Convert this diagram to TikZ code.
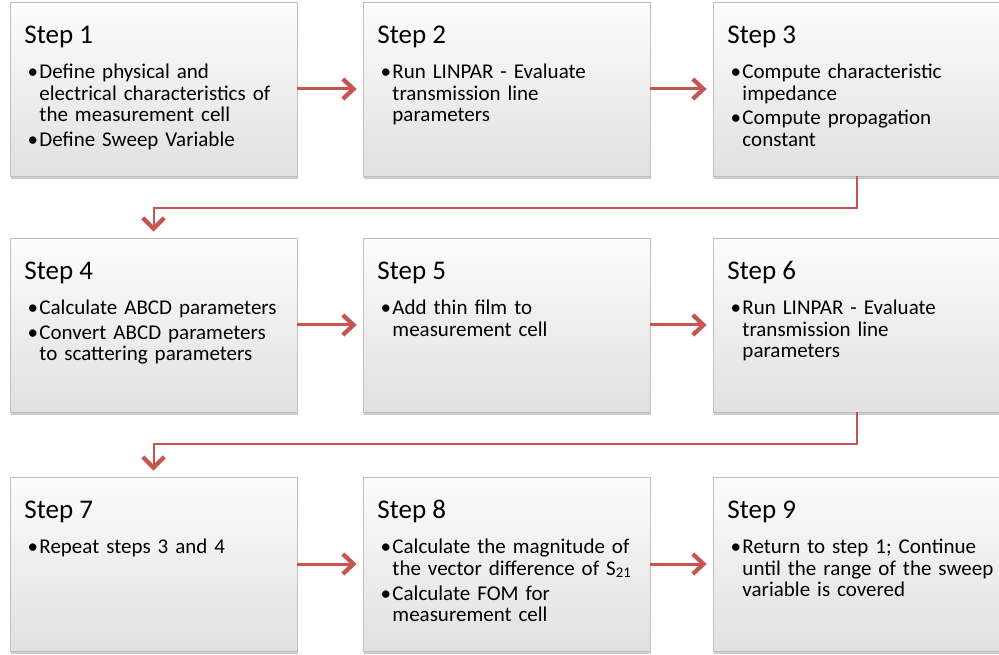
\documentclass[tikz,border=0pt]{standalone}
\usepackage{fontspec}
\setmainfont{Carlito}
\usetikzlibrary{arrows.meta,shadows}

\definecolor{flowred}{RGB}{198,84,80}

% one bullet line, hanging indent under the text
\newcommand{\bul}{\hangindent=7.9pt\hangafter=1\noindent\makebox[7.9pt][l]{\hspace{-1pt}•}}
\newcommand{\nl}{\hfil\break}

% box, title and bullets of one step
\newcommand{\stepcard}[4]{%
    \node[stepbox] (#1) at (#2) {};
    \node[steptitle] (#1t) at ([shift={(10.9pt,-31.5pt)}]#1.north west) {#3};
    \node[stepbody] (#1b) at ([shift={(14.3pt,-57.75pt)}]#1.north west) {#4\par};}

\tikzset{
    stepbox/.style={rectangle,minimum width=215.25pt,minimum height=130.5pt,inner sep=0pt,
        top color=gray!2,bottom color=gray!24,draw=gray!50,line width=0.6pt,
        drop shadow={shadow xshift=1pt,shadow yshift=-2.5pt,opacity=0.4}},
    steptitle/.style={anchor=base west,inner sep=0pt,font=\fontsize{20.25}{24}\selectfont},
    stepbody/.style={anchor=base west,inner sep=0pt,text width=212pt,
        font=\fontsize{15.75}{16.1}\selectfont\setlength{\parskip}{2.6pt}},
    flow/.style={flowred,line width=2.25pt,shorten >=4.5pt,
        -{Straight Barb[length=8pt,width=15pt,line width=3.2pt]}},
    wrap/.style={flowred,line width=1.5pt,shorten >=4.5pt,
        -{Straight Barb[length=8pt,width=16pt,line width=3.2pt]}}
}

\begin{document}
\begin{tikzpicture}[x=0.75pt,y=-0.75pt]
    \useasboundingbox (0,0) rectangle (999,655);

    % row 1
    \stepcard{s1}{153.5,89}{Step 1}{\bul Define physical and\nl electrical characteristics of\nl the measurement cell
        \par\bul Define Sweep Variable}
    \stepcard{s2}{506.5,89}{Step 2}{\bul Run LINPAR - Evaluate\nl transmission line\nl parameters}
    \stepcard{s3}{856.5,89}{Step 3}{\bul Compute characteristic\nl impedance
        \par\bul Compute propagation\nl constant}

    % row 2
    \stepcard{s4}{153.5,325}{Step 4}{\bul Calculate ABCD parameters
        \par\bul Convert ABCD parameters\nl to scattering parameters}
    \stepcard{s5}{506.5,325}{Step 5}{\bul Add thin film to\nl measurement cell}
    \stepcard{s6}{856.5,325}{Step 6}{\bul Run LINPAR - Evaluate\nl transmission line\nl parameters}

    % row 3
    \stepcard{s7}{153.5,564}{Step 7}{\bul Repeat steps 3 and 4}
    \stepcard{s8}{506.5,564}{Step 8}{\bul Calculate the magnitude of\nl the vector difference of S\textsubscript{21}
        \par\bul Calculate FOM for\nl measurement cell}
    \stepcard{s9}{856.5,564}{Step 9}{\bul Return to step 1; Continue\nl until the range of the sweep\nl variable is covered}

    % arrows along the rows
    \draw[flow] (s1) -- (s2);
    \draw[flow] (s2) -- (s3);
    \draw[flow] (s4) -- (s5);
    \draw[flow] (s5) -- (s6);
    \draw[flow] (s7) -- (s8);
    \draw[flow] (s8) -- (s9);

    % back to the next row
    \draw[wrap] (s3.south) -- ++(0,32) -| (s4.north);
    \draw[wrap] (s6.south) -- ++(0,32) -| (s7.north);
\end{tikzpicture}
\end{document}
